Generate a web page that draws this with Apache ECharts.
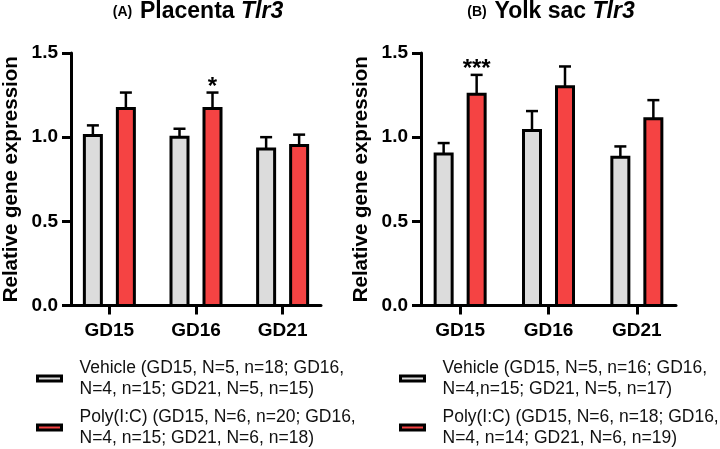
<!DOCTYPE html>
<html>
<head>
<meta charset="utf-8">
<script src="https://cdn.jsdelivr.net/npm/echarts@6/dist/echarts.min.js"></script>
<style>
  html, body { margin: 0; padding: 0; background: #fff; }
  #chart { width: 720px; height: 449px; }
</style>
</head>
<body>
<div id="chart"></div>
<script>
// categories and axis ticks
const categories = ['GD15', 'GD16', 'GD21'];
const yTicks = [0, 0.5, 1.0, 1.5];

// (A) Placenta Tlr3 - means and SEM
const placentaVehicle = [1.01, 1.00, 0.93];
const placentaVehicleSem = [0.06, 0.05, 0.07];
const placentaPoly = [1.17, 1.17, 0.95];
const placentaPolySem = [0.095, 0.095, 0.065];
const placentaPolySig = ['', '*', ''];

// (B) Yolk sac Tlr3 - means and SEM
const yolkVehicle = [0.90, 1.04, 0.88];
const yolkVehicleSem = [0.065, 0.115, 0.065];
const yolkPoly = [1.255, 1.30, 1.11];
const yolkPolySem = [0.115, 0.12, 0.11];
const yolkPolySig = ['***', '', ''];

// legend texts
const placentaLegend = [
  'Vehicle (GD15, N=5, n=18; GD16,\nN=4, n=15; GD21, N=5, n=15)',
  'Poly(I:C) (GD15, N=6, n=20; GD16,\nN=4, n=15; GD21, N=6, n=18)'
];
const yolkLegend = [
  'Vehicle (GD15, N=5, n=16; GD16,\nN=4,n=15; GD21, N=5, n=17)',
  'Poly(I:C) (GD15, N=6, n=18; GD16,\nN=4, n=14; GD21, N=6, n=19)'
];

const FONT = 'Liberation Sans, Arial, sans-serif';
const GRAY = '#dcdcdc';
const RED = '#f54343';

const chart = echarts.init(document.getElementById('chart'));

function toData(means, sems) {
  return means.map((m, i) => [i, m, sems[i]]);
}

// bar + upward error bar + significance stars
function barRenderer(fill, shift, sigs) {
  return function (params, api) {
    const i = api.value(0);
    const m = api.value(1);
    const e = api.value(2);
    const base = api.coord([i, 0]);
    const top = api.coord([i, m]);
    const cap = api.coord([i, m + e]);
    const cx = base[0] + shift;
    const children = [
      { type: 'line', shape: { x1: cx, y1: top[1], x2: cx, y2: cap[1] },
        style: { stroke: '#000', lineWidth: 2.5 } },
      { type: 'line', shape: { x1: cx - 6, y1: cap[1], x2: cx + 6, y2: cap[1] },
        style: { stroke: '#000', lineWidth: 2.5 } },
      { type: 'rect', shape: { x: cx - 8.5, y: top[1], width: 17, height: base[1] - top[1] },
        style: { fill: fill, stroke: '#000', lineWidth: 3 } }
    ];
    const s = sigs ? sigs[params.dataIndex] : '';
    if (s) {
      children.push({
        type: 'text', x: cx, y: cap[1] - 5.5,
        style: { text: s, align: 'center', verticalAlign: 'middle',
                 fontSize: 24, fontWeight: 'bold', fontFamily: FONT, fill: '#000' }
      });
    }
    return { type: 'group', children: children };
  };
}

function xAxisFor(gridIndex) {
  return {
    type: 'value', gridIndex: gridIndex, min: -0.443, max: 2.443,
    splitLine: { show: false },
    axisLine: { show: true, onZero: false, lineStyle: { color: '#000', width: 3 } },
    axisTick: { show: true, customValues: [0, 1, 2], length: 9, lineStyle: { color: '#000', width: 3 } },
    axisLabel: {
      customValues: [0, 1, 2], margin: 16,
      formatter: v => categories[Math.round(v)],
      fontSize: 19, fontWeight: 'bold', fontFamily: FONT, color: '#000'
    }
  };
}

function yAxisFor(gridIndex) {
  return {
    type: 'value', gridIndex: gridIndex,
    min: yTicks[0], max: yTicks[yTicks.length - 1], interval: yTicks[1] - yTicks[0],
    name: 'Relative gene expression', nameLocation: 'middle', nameGap: 49,
    nameTextStyle: { fontSize: 20.5, fontWeight: 'bold', fontFamily: FONT, color: '#000' },
    splitLine: { show: false },
    axisLine: { show: true, onZero: false, lineStyle: { color: '#000', width: 3 } },
    axisTick: { show: true, length: 9, lineStyle: { color: '#000', width: 3 } },
    axisLabel: {
      margin: 13, formatter: v => v.toFixed(1),
      fontSize: 19, fontWeight: 'bold', fontFamily: FONT, color: '#000'
    }
  };
}

function legendFor(left, names) {
  return {
    orient: 'vertical', left: left, top: 357, padding: 0, itemGap: 6,
    itemWidth: 24, itemHeight: 5, selectedMode: false,
    textStyle: { fontSize: 17.5, lineHeight: 21.5, fontFamily: FONT, color: '#111', padding: [0, 0, 0, 13] },
    data: [
      { name: names[0], icon: 'rect', itemStyle: { color: GRAY, borderColor: '#000', borderWidth: 3 } },
      { name: names[1], icon: 'rect', itemStyle: { color: RED, borderColor: '#000', borderWidth: 3 } }
    ]
  };
}

function titleText(x, tag, main) {
  return {
    type: 'text', x: x, y: 12,
    style: {
      text: '{t|' + tag + '  }{m|' + main + ' }{i|Tlr3}',
      align: 'center', verticalAlign: 'middle', fill: '#000',
      rich: {
        t: { fontSize: 14, fontWeight: 'bold', fontFamily: FONT },
        m: { fontSize: 23, fontWeight: 'bold', fontFamily: FONT },
        i: { fontSize: 23, fontWeight: 'bold', fontStyle: 'italic', fontFamily: FONT }
      }
    }
  };
}

chart.setOption({
  animation: false,
  grid: [
    { left: 66, top: 53, width: 255, height: 252.5 },
    { left: 421, top: 53, width: 255, height: 252.5 }
  ],
  xAxis: [xAxisFor(0), xAxisFor(1)],
  yAxis: [yAxisFor(0), yAxisFor(1)],
  legend: [legendFor(36, placentaLegend), legendFor(399, yolkLegend)],
  graphic: [
    titleText(198, '(A)', 'Placenta'),
    titleText(551, '(B)', 'Yolk sac')
  ],
  series: [
    { type: 'custom', name: placentaLegend[0], xAxisIndex: 0, yAxisIndex: 0,
      itemStyle: { color: GRAY }, data: toData(placentaVehicle, placentaVehicleSem),
      renderItem: barRenderer(GRAY, -16.5, null) },
    { type: 'custom', name: placentaLegend[1], xAxisIndex: 0, yAxisIndex: 0,
      itemStyle: { color: RED }, data: toData(placentaPoly, placentaPolySem),
      renderItem: barRenderer(RED, 16.5, placentaPolySig) },
    { type: 'custom', name: yolkLegend[0], xAxisIndex: 1, yAxisIndex: 1,
      itemStyle: { color: GRAY }, data: toData(yolkVehicle, yolkVehicleSem),
      renderItem: barRenderer(GRAY, -16.5, null) },
    { type: 'custom', name: yolkLegend[1], xAxisIndex: 1, yAxisIndex: 1,
      itemStyle: { color: RED }, data: toData(yolkPoly, yolkPolySem),
      renderItem: barRenderer(RED, 16.5, yolkPolySig) }
  ]
});
</script>
</body>
</html>
